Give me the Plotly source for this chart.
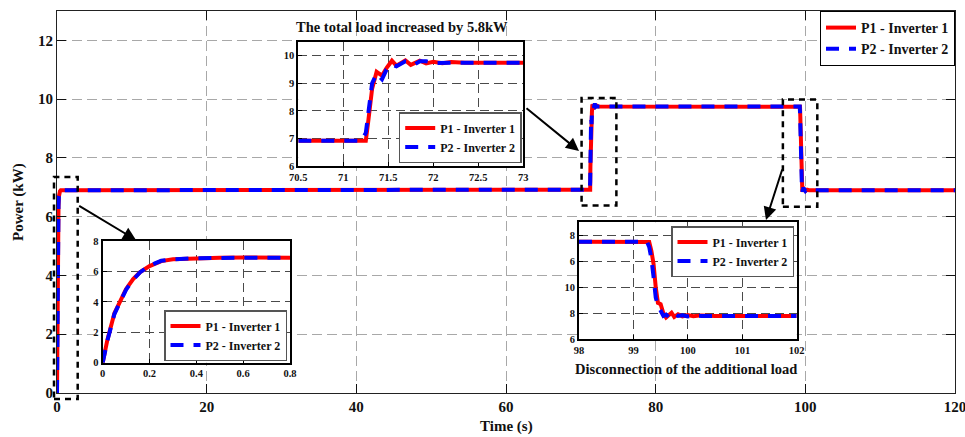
import plotly.graph_objects as go

# ---------------- data ----------------
# start-up transient (0 - 0.8 s)
startup_t = [0, 0.02, 0.05, 0.08, 0.1, 0.13, 0.16, 0.2, 0.25, 0.3, 0.35, 0.4, 0.5, 0.6, 0.7, 0.8]
startup_p1 = [0, 1.5, 3.25, 4.3, 4.85, 5.5, 5.95, 6.35, 6.68, 6.8, 6.84, 6.87, 6.9, 6.91, 6.9, 6.9]
startup_p2 = [0, 1.45, 3.2, 4.25, 4.8, 5.45, 5.95, 6.38, 6.7, 6.8, 6.84, 6.87, 6.89, 6.9, 6.9, 6.9]

# load increase (70.5 - 73 s)
inc_t = [70.5, 71.2, 71.25, 71.28, 71.32, 71.37, 71.43, 71.48, 71.54, 71.59, 71.64, 71.69,
         71.75, 71.8, 71.85, 71.92, 72.0, 72.1, 72.2, 72.35, 72.5, 73.0]
inc_p1 = [6.92, 6.92, 6.92, 7.7, 8.8, 9.42, 9.28, 9.55, 9.82, 9.64, 9.75, 9.83,
          9.67, 9.74, 9.82, 9.72, 9.78, 9.73, 9.77, 9.75, 9.75, 9.75]
inc_p2 = [6.92, 6.92, 7.2, 8.0, 9.0, 9.35, 9.15, 9.5, 9.68, 9.62, 9.72, 9.8,
          9.78, 9.7, 9.8, 9.8, 9.74, 9.76, 9.75, 9.75, 9.75, 9.75]

# disconnection of the additional load (98 - 102 s)
dis_t = [98.0, 99.25, 99.29, 99.33, 99.37, 99.41, 99.45, 99.5, 99.55, 99.6, 99.65, 99.7,
         99.75, 99.82, 99.9, 100.0, 100.1, 100.25, 100.5, 101.0, 102.0]
dis_p1 = [9.75, 9.75, 9.74, 9.4, 8.9, 8.0, 7.4, 7.35, 7.0, 6.84, 6.95, 7.02,
          6.86, 6.96, 6.88, 6.93, 6.89, 6.92, 6.9, 6.9, 6.9]
dis_p2 = [9.75, 9.75, 9.55, 9.1, 8.4, 7.6, 7.3, 7.1, 6.9, 6.95, 6.85, 6.9,
          7.0, 6.9, 6.92, 6.88, 6.91, 6.9, 6.9, 6.9, 6.9]

end_t = [120]
end_p = [6.9]

main_ticks_x = [0, 20, 40, 60, 80, 100, 120]
main_ticks_y = [0, 2, 4, 6, 8, 10, 12]
inset3_tickvals = [6, 7, 8, 9, 10]
inset3_ticktext = ["6", "8", "10", "6", "8"]

series_names = ["P1 - Inverter 1", "P2 - Inverter 2"]

# ---------------- styling ----------------
RED = "#ff0000"
BLUE = "#0000ff"
FONT = "Liberation Serif"
W, H = 965, 437
L, R, T, B = 57, 10, 11, 44
PW, PH = W - L - R, H - T - B


def px_x(px):
    return (px - L) / PW


def px_y(py):
    return (H - B - py) / PH


main_t = startup_t + inc_t + dis_t + end_t
main_p1 = startup_p1 + inc_p1 + dis_p1 + end_p
main_p2 = startup_p2 + inc_p2 + dis_p2 + end_p

fig = go.Figure()


def add_pair(t, p1, p2, xa, ya, legend, width=4):
    fig.add_trace(go.Scatter(x=t, y=p1, mode="lines", name=series_names[0],
                             line=dict(color=RED, width=width),
                             xaxis=xa, yaxis=ya, legend=legend))
    fig.add_trace(go.Scatter(x=t, y=p2, mode="lines", name=series_names[1],
                             line=dict(color=BLUE, width=width, dash="13px,10px"),
                             xaxis=xa, yaxis=ya, legend=legend))


add_pair(main_t, main_p1, main_p2, "x", "y", "legend")
add_pair(startup_t, startup_p1, startup_p2, "x2", "y2", "legend2")
add_pair(inc_t, inc_p1, inc_p2, "x3", "y3", "legend3")
add_pair(dis_t, dis_p1, dis_p2, "x4", "y4", "legend4")

main_axis = dict(showline=True, linecolor="#222", linewidth=1, mirror="ticks",
                 ticks="inside", ticklen=9, tickcolor="#111", tickwidth=1,
                 showgrid=True, gridcolor="#a8a8a8", griddash="10px,5px", gridwidth=1,
                 zeroline=False, automargin=False, ticklabeloverflow="allow",
                 tickfont=dict(size=15, family=FONT, weight="bold", color="#111"))

inset_axis = dict(showline=True, linecolor="#000", linewidth=2, mirror=True,
                  ticks="inside", ticklen=4, tickcolor="#000", tickwidth=1,
                  showgrid=True, gridcolor="#4a4a4a", griddash="9px,5px", gridwidth=1.2,
                  zeroline=False, automargin=False, ticklabeloverflow="allow",
                  tickfont=dict(size=10.5, family=FONT, weight="bold", color="#111"))

in1 = dict(x=[px_x(102.7), px_x(290)], y=[px_y(362.7), px_y(241)])
in2 = dict(x=[px_x(298.3), px_x(523.3)], y=[px_y(166), px_y(42)])
in3 = dict(x=[px_x(579), px_x(796.7)], y=[px_y(339.3), px_y(222.3)])

leg_main = dict(bgcolor="white", bordercolor="#000", borderwidth=1,
                font=dict(size=14, family=FONT, weight="bold", color="#111"),
                tracegroupgap=0)
leg_in = dict(bgcolor="white", bordercolor="#555", borderwidth=1.5,
              font=dict(size=12, family=FONT, weight="bold", color="#111"),
              tracegroupgap=0)

fig.update_layout(
    width=W, height=H, autosize=False,
    margin=dict(l=L, r=R, t=T, b=B),
    paper_bgcolor="white", plot_bgcolor="white",
    font=dict(family=FONT, weight="bold", color="#111"),
    xaxis=dict(main_axis, range=[0, 120], tickvals=main_ticks_x, domain=[0, 1]),
    yaxis=dict(main_axis, range=[0, 13], tickvals=main_ticks_y, domain=[0, 1]),
    xaxis2=dict(inset_axis, range=[0, 0.8], dtick=0.2, domain=in1["x"], anchor="y2"),
    yaxis2=dict(inset_axis, range=[0, 8], dtick=2, domain=in1["y"], anchor="x2"),
    xaxis3=dict(inset_axis, range=[70.5, 73], dtick=0.5, domain=in2["x"], anchor="y3"),
    yaxis3=dict(inset_axis, range=[6, 10.5], dtick=1, domain=in2["y"], anchor="x3"),
    xaxis4=dict(inset_axis, range=[98, 102], dtick=1, domain=in3["x"], anchor="y4"),
    yaxis4=dict(inset_axis, range=[6, 10.5], tickvals=inset3_tickvals,
                ticktext=inset3_ticktext, domain=in3["y"], anchor="x4"),
    legend=dict(leg_main, x=1, y=1, xanchor="right", yanchor="top"),
    legend2=dict(leg_in, x=px_x(287), y=px_y(361), xanchor="right", yanchor="bottom"),
    legend3=dict(leg_in, x=px_x(521.7), y=px_y(163), xanchor="right", yanchor="bottom"),
    legend4=dict(leg_in, x=px_x(794), y=px_y(226), xanchor="right", yanchor="top"),
    showlegend=True,
)

# dashed zoom rectangles
rect = dict(type="rect", line=dict(color="black", width=2.5, dash="6px,5px"),
            fillcolor="rgba(0,0,0,0)", layer="above")
fig.add_shape(rect, xref="paper", yref="paper",
              x0=px_x(54), x1=px_x(77.7), y0=px_y(399), y1=px_y(177))
fig.add_shape(rect, xref="x", yref="y", x0=70.1, x1=74.75, y0=6.38, y1=10.04)
fig.add_shape(rect, xref="x", yref="y", x0=97.0, x1=101.6, y0=6.34, y1=9.99)

# arrows
arrows = [((136, 240), (77.7, 205)), ((579, 151), (525, 107)), ((766, 220), (782.7, 168))]
for (hx, hy), (tx, ty) in arrows:
    fig.add_annotation(x=px_x(hx), y=px_y(hy), xref="paper", yref="paper",
                       ax=tx - hx, ay=ty - hy, text="", showarrow=True,
                       arrowhead=2, arrowsize=1.3, arrowwidth=2, arrowcolor="black",
                       standoff=0, startstandoff=0)

# titles
title_font = dict(size=14.5, family=FONT, weight="bold", color="#111")
fig.add_annotation(x=px_x(402), y=px_y(27), xref="paper", yref="paper",
                   text="The total load increased by 5.8kW", showarrow=False,
                   font=title_font, xanchor="center", yanchor="middle")
fig.add_annotation(x=px_x(686), y=px_y(369), xref="paper", yref="paper",
                   text="Disconnection of the additional load", showarrow=False,
                   font=title_font, xanchor="center", yanchor="middle")
axis_font = dict(size=15, family=FONT, weight="bold", color="#111")
fig.add_annotation(x=0.5, y=px_y(426.7), xref="paper", yref="paper",
                   text="Time (s)", showarrow=False, font=axis_font,
                   xanchor="center", yanchor="middle")
fig.add_annotation(x=px_x(18), y=px_y(202), xref="paper", yref="paper",
                   text="Power (kW)", showarrow=False, font=axis_font, textangle=-90,
                   xanchor="center", yanchor="middle")

fig.write_html("out.html",
               config={"responsive": False, "displayModeBar": False},
               post_script="document.body.style.margin='0px';document.body.style.padding='0px';"
                           "document.body.style.overflow='hidden';")
